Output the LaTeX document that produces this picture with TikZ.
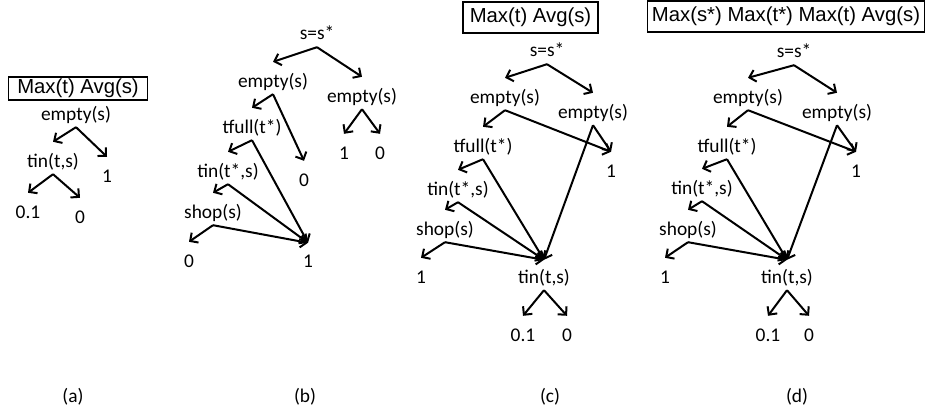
\documentclass[tikz,border=0pt]{standalone}
\usepackage{fontspec}
\newfontfamily\lblfont{Carlito}
\newfontfamily\boxfont{Liberation Sans}
\usetikzlibrary{arrows.meta}

\begin{document}
\begin{tikzpicture}[x=1pt, y=-1pt,
  lbl/.style={font={\lblfont\fontsize{19.4}{23}\selectfont}, text height=14pt, text depth=4pt, inner sep=3pt},
  box/.style={draw, line width=1.8pt, inner sep=0pt, font={\boxfont\fontsize{20.3}{24}\selectfont}},
  arrow/.style={-{Straight Barb[length=6pt,width=12pt]}, line width=2pt}
]
\useasboundingbox (0,0) rectangle (926,412);

% (a) one tree under Max(t) Avg(s)
\node[box, minimum width=139pt, minimum height=23pt] (boxa) at (78,88.5) {Max(t) Avg(s)};
\node[lbl] (ea) at (76,115) {empty(s)};
\node[lbl] (ta) at (53,162) {tin(t,s)};
\node[lbl] (onea) at (107,177) {1};
\node[lbl] (pa) at (28,213) {0.1};
\node[lbl] (za) at (80,218) {0};

\draw[arrow] (ea.south) -- ([yshift=8pt]ta.north);
\draw[arrow] (ea.south) -- ([yshift=8pt]onea.north);
\draw[arrow] (ta.south) -- ([yshift=8pt]pa.north);
\draw[arrow] (ta.south) -- ([yshift=8pt]za.north);

% (b) split on s=s*
\node[lbl] (sb) at (317,35) {s=s*};
\node[lbl] (ebl) at (273,82) {empty(s)};
\node[lbl] (ebr) at (362,97) {empty(s)};
\node[lbl] (fb) at (252,128) {tfull(t*)};
\node[lbl] (zb1) at (304,181) {0};
\node[lbl] (oneb) at (344,154) {1};
\node[lbl] (zb2) at (380,154) {0};
\node[lbl] (tsb) at (228,172) {tin(t*,s)};
\node[lbl] (shb) at (213,213) {shop(s)};
\node[lbl] (zb3) at (189,262) {0};
\node[lbl] (hubb) at (308,262) {1};

\draw[arrow] (sb.south) -- ([yshift=8pt]ebl.north);
\draw[arrow] (sb.south) -- ([yshift=8pt]ebr.north);
\draw[arrow] (ebl.south) -- ([yshift=8pt]fb.north);
\draw[arrow] (ebl.south) -- ([yshift=8pt]zb1.north);
\draw[arrow] (ebr.south) -- ([yshift=8pt]oneb.north);
\draw[arrow] (ebr.south) -- ([yshift=8pt]zb2.north);
\draw[arrow] (fb.south) -- ([yshift=8pt]tsb.north);
\draw[arrow] (fb.south) -- ([yshift=7pt]hubb.north);
\draw[arrow] (tsb.south) -- ([yshift=8pt]shb.north);
\draw[arrow] (tsb.south) -- ([yshift=7pt]hubb.north);
\draw[arrow] (shb.south) -- ([yshift=8pt]zb3.north);
\draw[arrow] (shb.south) -- ([yshift=7pt]hubb.north);

% (c) Max(t) Avg(s)
\node[box, minimum width=135pt, minimum height=31pt] (boxc) at (530.5,17.5) {Max(t) Avg(s)};
\node[lbl] (sc) at (547,52) {s=s*};
\node[lbl] (ecl) at (505,98) {empty(s)};
\node[lbl] (ecr) at (593,113) {empty(s)};
\node[lbl] (onec) at (611,172) {1};
\node[lbl] (fc) at (483,147) {tfull(t*)};
\node[lbl] (tsc) at (458,190) {tin(t*,s)};
\node[lbl] (shc) at (445,230) {shop(s)};
\node[lbl] (oc) at (421,278) {1};
\node[lbl] (tc) at (544,278) {tin(t,s)};
\node[lbl] (pc) at (523,336) {0.1};
\node[lbl] (zc) at (567,336) {0};

\draw[arrow] (sc.south) -- ([yshift=8pt]ecl.north);
\draw[arrow] (sc.south) -- ([yshift=8pt]ecr.north);
\draw[arrow] (ecl.south) -- ([yshift=8pt]fc.north);
\draw[arrow] (ecl.south) -- ([yshift=8pt]onec.north);
\draw[arrow] (ecr.south) -- ([yshift=8pt]onec.north);
\draw[arrow] (ecr.south) -- ([yshift=6pt]tc.north);
\draw[arrow] (fc.south) -- ([yshift=8pt]tsc.north);
\draw[arrow] (fc.south) -- ([yshift=6pt]tc.north);
\draw[arrow] (tsc.south) -- ([yshift=8pt]shc.north);
\draw[arrow] (tsc.south) -- ([yshift=6pt]tc.north);
\draw[arrow] (shc.south) -- ([yshift=8pt]oc.north);
\draw[arrow] (shc.south) -- ([yshift=6pt]tc.north);
\draw[arrow] (tc.south) -- ([yshift=8pt]pc.north);
\draw[arrow] (tc.south) -- ([yshift=8pt]zc.north);

% (d) Max(s*) Max(t*) Max(t) Avg(s)
\node[box, minimum width=277pt, minimum height=31pt] (boxd) at (786,16.5) {Max(s*) Max(t*) Max(t) Avg(s)};
\node[lbl] (sd) at (794,53) {s=s*};
\node[lbl] (edl) at (748,98) {empty(s)};
\node[lbl] (edr) at (837,113) {empty(s)};
\node[lbl] (oned) at (856,172) {1};
\node[lbl] (fd) at (727,147) {tfull(t*)};
\node[lbl] (tsd) at (702,189) {tin(t*,s)};
\node[lbl] (shd) at (688,230) {shop(s)};
\node[lbl] (od) at (665,278) {1};
\node[lbl] (td) at (787,278) {tin(t,s)};
\node[lbl] (pd) at (768,336) {0.1};
\node[lbl] (zd) at (809,336) {0};

\draw[arrow] (sd.south) -- ([yshift=8pt]edl.north);
\draw[arrow] (sd.south) -- ([yshift=8pt]edr.north);
\draw[arrow] (edl.south) -- ([yshift=8pt]fd.north);
\draw[arrow] (edl.south) -- ([yshift=8pt]oned.north);
\draw[arrow] (edr.south) -- ([yshift=8pt]oned.north);
\draw[arrow] (edr.south) -- ([yshift=6pt]td.north);
\draw[arrow] (fd.south) -- ([yshift=8pt]tsd.north);
\draw[arrow] (fd.south) -- ([yshift=6pt]td.north);
\draw[arrow] (tsd.south) -- ([yshift=8pt]shd.north);
\draw[arrow] (tsd.south) -- ([yshift=6pt]td.north);
\draw[arrow] (shd.south) -- ([yshift=8pt]od.north);
\draw[arrow] (shd.south) -- ([yshift=6pt]td.north);
\draw[arrow] (td.south) -- ([yshift=8pt]pd.north);
\draw[arrow] (td.south) -- ([yshift=8pt]zd.north);

% captions
\node[lbl] (capa) at (73,397) {(a)};
\node[lbl] (capb) at (305,397) {(b)};
\node[lbl] (capc) at (550,397) {(c)};
\node[lbl] (capd) at (797,397) {(d)};
\end{tikzpicture}
\end{document}
